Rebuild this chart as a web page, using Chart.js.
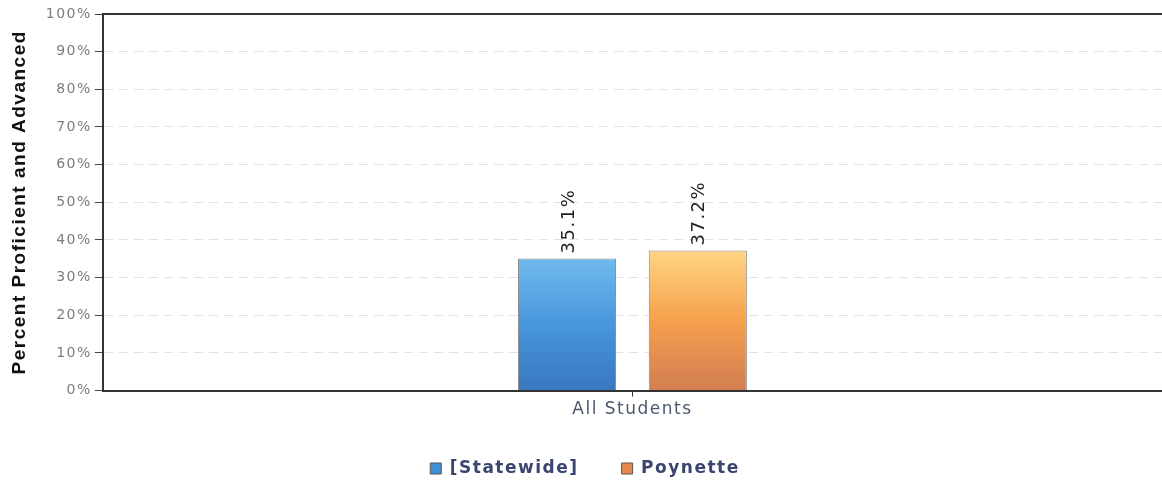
<!DOCTYPE html>
<html>
<head>
<meta charset="utf-8">
<script src="https://cdn.jsdelivr.net/npm/chart.js@4/dist/chart.umd.min.js"></script>
<style>
  html, body { margin: 0; padding: 0; background: #fff; }
  #wrap { width: 1162px; height: 483px; }
</style>
</head>
<body>
<div id="wrap"><canvas id="grafica"></canvas></div>
<script>
const categorias = ["All Students"];
const serieNombres = ["[Statewide]", "Poynette"];
const valoresEstado = [35.1];
const valoresPoynette = [37.2];
const yTicks = [0, 10, 20, 30, 40, 50, 60, 70, 80, 90, 100];

// degradado vertical desde arriba de la barra hasta la base
function degradado(colores) {
    return function (context) {
        const chart = context.chart;
        if (!chart.chartArea || context.raw === undefined) return colores[1];
        const y = chart.scales.y;
        const top = y.getPixelForValue(context.raw);
        const base = y.getPixelForValue(0);
        const g = chart.ctx.createLinearGradient(0, top, 0, base);
        g.addColorStop(0, colores[0]);
        g.addColorStop(0.5, colores[1]);
        g.addColorStop(1, colores[2]);
        return g;
    };
}

// el texto del grafico va algo espaciado
const espaciado = {
    id: 'espaciado',
    beforeLayout(chart) { chart.ctx.letterSpacing = '1.5px'; },
    beforeDraw(chart) { chart.ctx.letterSpacing = '1.5px'; }
};

// etiquetas rotadas encima de cada barra
const etiquetasValor = {
    id: 'etiquetasValor',
    afterDatasetsDraw(chart) {
        const ctx = chart.ctx;
        chart.data.datasets.forEach((ds, i) => {
            chart.getDatasetMeta(i).data.forEach((bar, j) => {
                ctx.save();
                ctx.translate(bar.x + 2, bar.y - 5);
                ctx.rotate(-Math.PI / 2);
                ctx.font = '18px "DejaVu Sans"';
                ctx.fillStyle = '#222';
                ctx.textAlign = 'left';
                ctx.textBaseline = 'middle';
                ctx.fillText(ds.data[j].toFixed(1) + '%', 0, 0);
                ctx.restore();
            });
        });
    }
};

const ctx = document.getElementById("grafica").getContext("2d");
new Chart(ctx, {
    type: "bar",
    data: {
        labels: categorias,
        datasets: [
            {
                label: serieNombres[0],
                data: valoresEstado,
                backgroundColor: degradado(['#70baee', '#4896db', '#3878c0']),
                borderColor: '#8a8a8a',
                borderWidth: 1,
                categoryPercentage: 0.247,
                barPercentage: 0.75
            },
            {
                label: serieNombres[1],
                data: valoresPoynette,
                backgroundColor: degradado(['#ffd583', '#f5a04c', '#d27e52']),
                borderColor: '#8a8a8a',
                borderWidth: 1,
                categoryPercentage: 0.247,
                barPercentage: 0.75
            }
        ]
    },
    options: {
        responsive: true,
        maintainAspectRatio: false,
        animation: false,
        layout: { padding: { top: 14, right: 0, left: 8, bottom: -4 } },
        plugins: {
            tooltip: { enabled: false },
            legend: {
                position: 'bottom',
                labels: {
                    boxWidth: 11,
                    boxHeight: 11,
                    padding: 6,
                    color: '#3a4570',
                    font: { family: '"DejaVu Sans"', size: 17, weight: 'bold' },
                    generateLabels(chart) {
                        const relleno = ['#3f8ed6', '#e8884a'];
                        return chart.data.datasets.map((ds, i) => ({
                            text: i === 0 ? ds.label + '     ' : ds.label,
                            fillStyle: relleno[i],
                            strokeStyle: '#555',
                            lineWidth: 1,
                            datasetIndex: i,
                            fontColor: '#3a4570'
                        }));
                    }
                }
            }
        },
        scales: {
            x: {
                grid: {
                    offset: false,
                    drawOnChartArea: false,
                    drawTicks: true,
                    tickLength: 6,
                    tickColor: '#333'
                },
                border: { display: true, color: '#333', width: 2 },
                ticks: {
                    color: '#4a5870',
                    font: { family: '"DejaVu Sans"', size: 17 },
                    padding: 3
                },
                afterFit(scale) { scale.height += 31; }
            },
            // borde superior del area del grafico
            arriba: {
                type: 'category',
                position: 'top',
                display: true,
                grid: { display: false, drawTicks: false },
                border: { display: true, color: '#333', width: 2 },
                ticks: { display: false }
            },
            y: {
                min: 0,
                max: 100,
                afterBuildTicks(scale) {
                    scale.ticks = yTicks.map(v => ({ value: v }));
                },
                grid: {
                    color: '#e2e2e2',
                    lineWidth: 1,
                    tickLength: 8,
                    tickColor: '#444'
                },
                border: { display: true, color: '#333', width: 2, dash: [9, 6] },
                ticks: {
                    color: '#7c7c7c',
                    font: { family: '"DejaVu Sans"', size: 14 },
                    padding: 3,
                    callback: v => v + '%'
                },
                title: {
                    display: true,
                    text: 'Percent Proficient and Advanced',
                    color: '#111',
                    font: { family: '"Liberation Sans"', size: 19, weight: 'bold' },
                    padding: { top: 0, bottom: 12 }
                }
            }
        }
    },
    plugins: [espaciado, etiquetasValor]
});
</script>
</body>
</html>
